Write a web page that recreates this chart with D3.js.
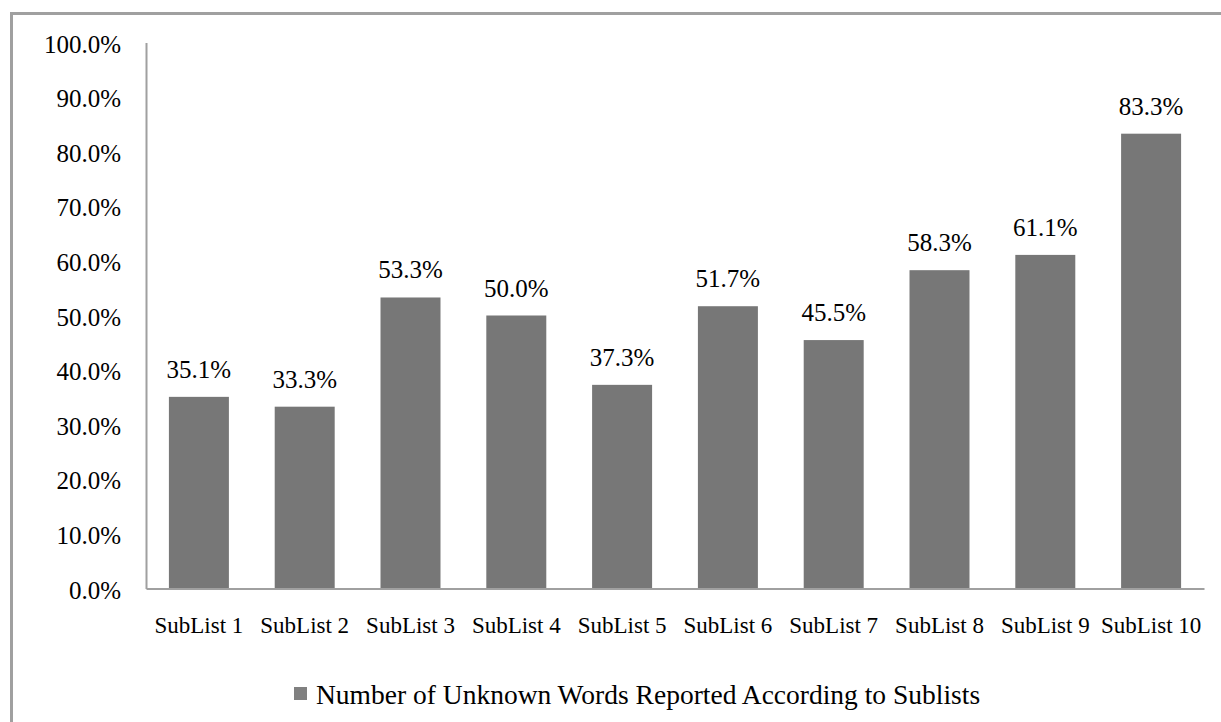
<!DOCTYPE html>
<html>
<head>
<meta charset="utf-8">
<script src="https://cdn.jsdelivr.net/npm/d3@7"></script>
<style>
  body { margin: 0; background: #fff; }
</style>
</head>
<body>
<div id="chart"></div>
<script>
// Chart data
const categories = ["SubList 1", "SubList 2", "SubList 3", "SubList 4", "SubList 5",
                    "SubList 6", "SubList 7", "SubList 8", "SubList 9", "SubList 10"];
const values = [35.1, 33.3, 53.3, 50.0, 37.3, 51.7, 45.5, 58.3, 61.1, 83.3];
const yTicks = [0, 10, 20, 30, 40, 50, 60, 70, 80, 90, 100];
const seriesName = "Number of Unknown Words Reported According to Sublists";

const serif = "'Liberation Serif', 'Times New Roman', serif";
const width = 1221;
const height = 722;
const margin = { top: 42.5, right: 17, bottom: 133.5, left: 146 };

const svg = d3.select("#chart")
    .append("svg")
    .attr("width", width)
    .attr("height", height)
    .style("font-family", serif);

// outer frame (right and bottom edges fall outside the picture)
svg.append("rect")
    .attr("x", 11.5)
    .attr("y", 13.5)
    .attr("width", width + 20)
    .attr("height", height + 20)
    .attr("fill", "none")
    .attr("stroke", "#a0a0a0")
    .attr("stroke-width", 3);

const x = d3.scaleBand()
    .domain(categories)
    .range([margin.left, width - margin.right])
    .paddingInner(0.433)
    .paddingOuter(0.2165);

const y = d3.scaleLinear()
    .domain([0, 100])
    .range([height - margin.bottom, margin.top]);

// bars
svg.append("g")
    .selectAll("rect")
    .data(values)
    .join("rect")
    .attr("x", (d, i) => x(categories[i]))
    .attr("y", d => y(d))
    .attr("width", x.bandwidth())
    .attr("height", d => y(0) - y(d))
    .attr("fill", "#777777");

// value labels
svg.append("g")
    .selectAll("text")
    .data(values)
    .join("text")
    .attr("x", (d, i) => x(categories[i]) + x.bandwidth() / 2)
    .attr("y", d => y(d) - 19)
    .attr("text-anchor", "middle")
    .style("font-family", serif)
    .style("font-size", "25px")
    .text(d => d.toFixed(1) + "%");

// y axis
const yAxis = svg.append("g")
    .attr("transform", `translate(${margin.left},0)`)
    .call(d3.axisLeft(y).tickValues(yTicks).tickSize(0).tickPadding(25)
        .tickFormat(d => d.toFixed(1) + "%"));
yAxis.select(".domain").attr("stroke", "#a0a0a0").attr("stroke-width", 2);
yAxis.selectAll("text")
    .style("font-family", serif)
    .style("font-size", "25px")
    .attr("fill", "#000")
    .attr("dy", "0.38em");

// x axis
const xAxis = svg.append("g")
    .attr("transform", `translate(0,${y(0)})`)
    .call(d3.axisBottom(x).tickSize(0).tickPadding(28));
xAxis.select(".domain").attr("stroke", "#a0a0a0").attr("stroke-width", 2);
xAxis.selectAll("text")
    .style("font-family", serif)
    .style("font-size", "23px")
    .attr("fill", "#000");

// legend
const legend = svg.append("g").attr("transform", "translate(294,687)");
legend.append("rect")
    .attr("width", 13)
    .attr("height", 13)
    .attr("fill", "#808080");
legend.append("text")
    .attr("x", 22)
    .attr("y", 17)
    .style("font-family", serif)
    .style("font-size", "27.5px")
    .text(seriesName);
</script>
</body>
</html>
